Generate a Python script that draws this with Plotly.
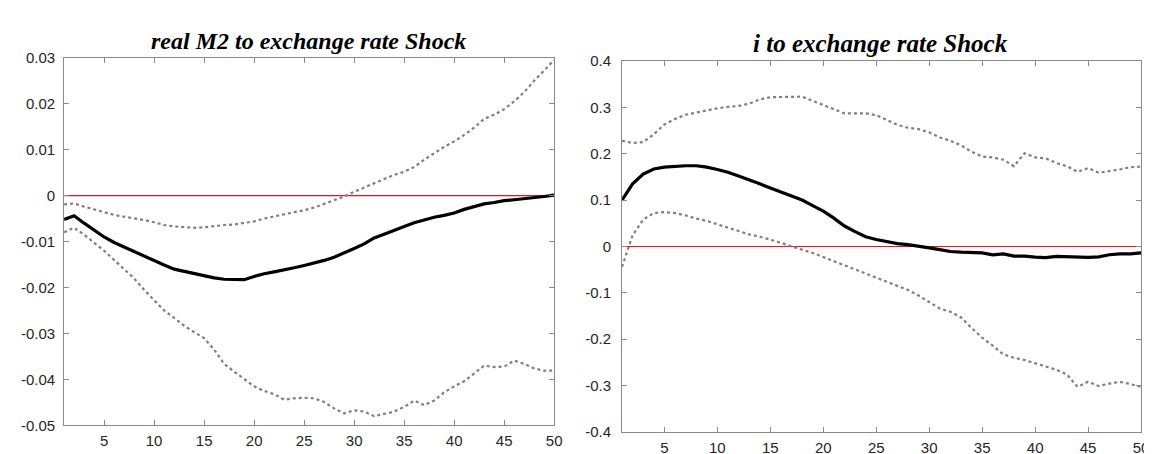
import plotly.graph_objects as go

periods = list(range(1, 51))

# Left panel: real M2 response
m2_mean = [-0.0052, -0.0044, -0.0060, -0.0076, -0.0090, -0.0102, -0.0112, -0.0122, -0.0132, -0.0141,
           -0.0151, -0.0160, -0.0165, -0.0170, -0.0174, -0.0179, -0.0182, -0.0183, -0.0183, -0.0176,
           -0.0170, -0.0166, -0.0162, -0.0157, -0.0152, -0.0147, -0.0141, -0.0134, -0.0125, -0.0115,
           -0.0105, -0.0092, -0.0084, -0.0075, -0.0067, -0.0059, -0.0053, -0.0047, -0.0043, -0.0038,
           -0.0030, -0.0024, -0.0018, -0.0015, -0.0011, -0.0009, -0.0007, -0.0005, -0.0002, 0.0001]
m2_upper = [-0.0019, -0.0017, -0.0024, -0.0030, -0.0036, -0.0042, -0.0046, -0.0049, -0.0053, -0.0058,
            -0.0064, -0.0067, -0.0069, -0.0070, -0.0069, -0.0066, -0.0064, -0.0063, -0.0060, -0.0056,
            -0.0050, -0.0045, -0.0040, -0.0036, -0.0032, -0.0026, -0.0018, -0.0010, -0.0002, 0.0008,
            0.0018, 0.0027, 0.0036, 0.0045, 0.0052, 0.0062, 0.0078, 0.0092, 0.0106, 0.0118,
            0.0132, 0.0148, 0.0167, 0.0176, 0.0188, 0.0205, 0.0225, 0.0250, 0.0272, 0.0295]
m2_lower = [-0.0080, -0.0070, -0.0085, -0.0102, -0.0120, -0.0140, -0.0160, -0.0180, -0.0205, -0.0228,
            -0.0250, -0.0266, -0.0283, -0.0297, -0.0310, -0.0335, -0.0366, -0.0383, -0.0400, -0.0415,
            -0.0425, -0.0432, -0.0444, -0.0441, -0.0440, -0.0441, -0.0449, -0.0463, -0.0474, -0.0467,
            -0.0470, -0.0480, -0.0475, -0.0470, -0.0460, -0.0446, -0.0456, -0.0446, -0.0428, -0.0415,
            -0.0404, -0.0387, -0.0370, -0.0373, -0.0372, -0.0359, -0.0366, -0.0376, -0.0381, -0.0381]

# Right panel: interest rate response
i_mean = [0.100, 0.135, 0.156, 0.167, 0.171, 0.173, 0.174, 0.174, 0.171, 0.166,
          0.160, 0.152, 0.144, 0.135, 0.126, 0.117, 0.109, 0.100, 0.088, 0.076,
          0.061, 0.044, 0.032, 0.021, 0.015, 0.0097, 0.006, 0.004, 0.001, -0.003,
          -0.007, -0.011, -0.0125, -0.0125, -0.014, -0.018, -0.016, -0.021, -0.021, -0.023,
          -0.024, -0.0215, -0.022, -0.0236, -0.0236, -0.0225, -0.018, -0.016, -0.016, -0.014]
i_upper = [0.228, 0.223, 0.225, 0.242, 0.263, 0.275, 0.284, 0.289, 0.294, 0.298,
           0.301, 0.303, 0.308, 0.317, 0.322, 0.322, 0.322, 0.323, 0.314, 0.305,
           0.296, 0.287, 0.287, 0.287, 0.283, 0.272, 0.262, 0.256, 0.253, 0.246,
           0.235, 0.228, 0.218, 0.204, 0.194, 0.192, 0.187, 0.173, 0.201, 0.192,
           0.190, 0.180, 0.173, 0.161, 0.169, 0.159, 0.162, 0.166, 0.171, 0.172]
i_lower = [-0.044, 0.024, 0.058, 0.072, 0.074, 0.072, 0.067, 0.060, 0.055, 0.048,
           0.041, 0.034, 0.026, 0.021, 0.015, 0.008, 0.000, -0.007, -0.014, -0.023,
           -0.032, -0.040, -0.049, -0.058, -0.068, -0.077, -0.085, -0.094, -0.106, -0.120,
           -0.134, -0.141, -0.153, -0.176, -0.197, -0.214, -0.233, -0.240, -0.245, -0.252,
           -0.259, -0.266, -0.276, -0.303, -0.292, -0.301, -0.296, -0.292, -0.297, -0.303]

x_ticks = [5, 10, 15, 20, 25, 30, 35, 40, 45, 50]
x_ticklabels = ["5", "10", "15", "20", "25", "30", "35", "40", "45", "50"]
y1_ticks = [-0.05, -0.04, -0.03, -0.02, -0.01, 0, 0.01, 0.02, 0.03]
y1_ticklabels = ["-0.05", "-0.04", "-0.03", "-0.02", "-0.01", "0", "0.01", "0.02", "0.03"]
y2_ticks = [-0.4, -0.3, -0.2, -0.1, 0, 0.1, 0.2, 0.3, 0.4]
y2_ticklabels = ["-0.4", "-0.3", "-0.2", "-0.1", "0", "0.1", "0.2", "0.3", "0.4"]
titles = ["real M2 to exchange rate Shock", "i to exchange rate Shock"]
zero_line = [0] * len(periods)

W, H = 1152, 454
fig = go.Figure()

band_style = dict(color="#7f7f7f", width=2.2, dash="dot")
mean_style = dict(color="black", width=3.2)
zero_style = dict(color="#e8141c", width=1.1)

for xa, ya, mean, up, lo in [("x", "y", m2_mean, m2_upper, m2_lower),
                             ("x2", "y2", i_mean, i_upper, i_lower)]:
    fig.add_trace(go.Scatter(x=periods, y=zero_line, mode="lines", line=zero_style,
                             xaxis=xa, yaxis=ya, showlegend=False, hoverinfo="skip"))
    fig.add_trace(go.Scatter(x=periods, y=up, mode="lines", line=band_style,
                             xaxis=xa, yaxis=ya, showlegend=False))
    fig.add_trace(go.Scatter(x=periods, y=lo, mode="lines", line=band_style,
                             xaxis=xa, yaxis=ya, showlegend=False))
    fig.add_trace(go.Scatter(x=periods, y=mean, mode="lines", line=mean_style,
                             xaxis=xa, yaxis=ya, showlegend=False))

tick_font = dict(family="Liberation Sans, Arial, sans-serif", size=15, color="#262626")
axis_common = dict(showline=True, linecolor="#8a8a8a", linewidth=1, mirror="ticks",
                   ticks="inside", ticklen=5, tickcolor="#8a8a8a", showgrid=False,
                   zeroline=False, tickfont=tick_font)

def px_domain_x(a, b):
    return [a / W, b / W]

def px_domain_y(top, bottom):
    return [1 - bottom / H, 1 - top / H]

fig.update_layout(
    width=W, height=H,
    margin=dict(l=0, r=0, t=0, b=0),
    paper_bgcolor="white", plot_bgcolor="white",
    xaxis=dict(domain=px_domain_x(56.5, 550), range=[1, 50], tickvals=x_ticks,
               ticktext=x_ticklabels, anchor="y", ticklabelstandoff=2, **axis_common),
    yaxis=dict(domain=px_domain_y(42.3, 424.3), range=[-0.05, 0.03], tickvals=y1_ticks,
               ticktext=y1_ticklabels, anchor="x", ticklabelstandoff=5, **axis_common),
    xaxis2=dict(domain=px_domain_x(618.3, 1141), range=[1, 50], tickvals=x_ticks,
                ticktext=x_ticklabels, anchor="y2", ticklabelstandoff=2, **axis_common),
    yaxis2=dict(domain=px_domain_y(45.7, 431), range=[-0.4, 0.4], tickvals=y2_ticks,
                ticktext=y2_ticklabels, anchor="x2", ticklabelstandoff=7, **axis_common),
)

title_font_left = dict(family="Liberation Serif, Times New Roman, serif", size=24, color="black",
                       weight="bold", style="italic")
title_font_right = dict(family="Liberation Serif, Times New Roman, serif", size=25, color="black",
                        weight="bold", style="italic")
fig.add_annotation(text=titles[0], x=303 / W, y=1 - 25 / H, xref="paper", yref="paper",
                   showarrow=False, font=title_font_left, xanchor="center", yanchor="middle")
fig.add_annotation(text=titles[1], x=879 / W, y=1 - 27.5 / H, xref="paper", yref="paper",
                   showarrow=False, font=title_font_right, xanchor="center", yanchor="middle")

fig.write_html("out.html")
